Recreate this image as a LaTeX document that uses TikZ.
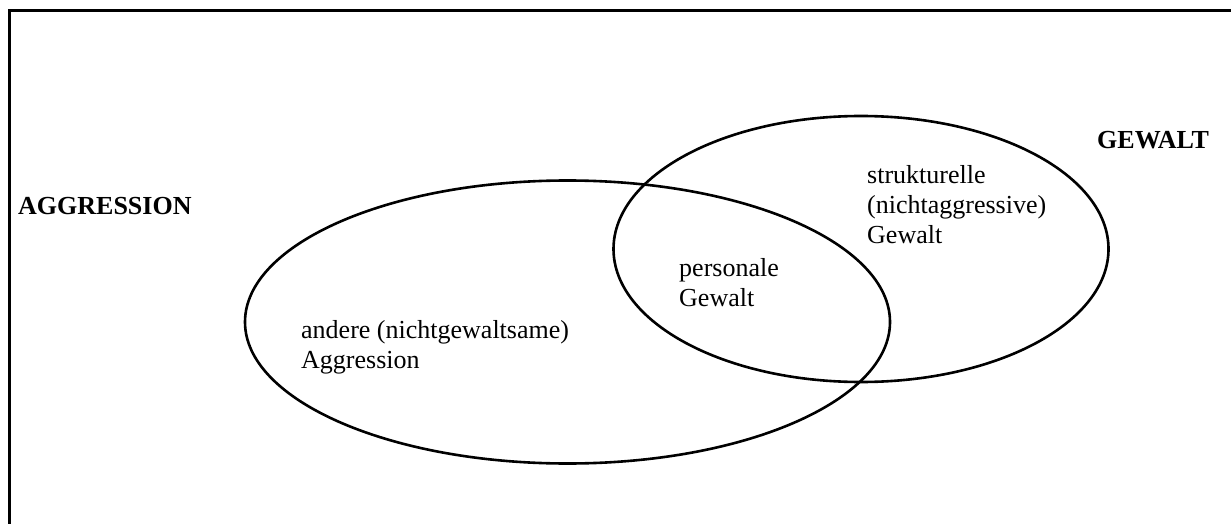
\documentclass[tikz,border=0pt]{standalone}
\usepackage{fontspec}
\setmainfont{Liberation Serif}
\usetikzlibrary{shapes.geometric}

\begin{document}
\begin{tikzpicture}[x=1pt, y=-1pt]
\tikzstyle{ring} = [ellipse, draw=black, line width=2.6pt, inner sep=0pt]
\tikzstyle{txt} = [anchor=base west, inner sep=0pt, align=left,
                   font=\fontsize{26}{30}\selectfont]
\tikzstyle{title} = [txt, font=\fontsize{26}{30}\selectfont\bfseries]

\useasboundingbox (0,0) rectangle (1231,524);
\clip (0,0) rectangle (1231,524);
\draw[line width=2.6pt] (9.5,10.5) rectangle (1260,560);

% the two sets
\node[ring, minimum width=645pt, minimum height=283pt] (aggr) at (567.5,322) {};
\node[ring, minimum width=495pt, minimum height=266pt] (gewalt) at (861,249) {};

\node[title] (aggrname) at (18,214) {AGGRESSION};
\node[title] (gewaltname) at (1097,149) {GEWALT};

% base = last line of each text
\node[txt] (andere) at (301,368) {andere (nichtgewaltsame)\\Aggression};
\node[txt] (personal) at (679,306) {personale\\Gewalt};
\node[txt] (struktur) at (867,243) {strukturelle\\(nichtaggressive)\\Gewalt};
\end{tikzpicture}
\end{document}
